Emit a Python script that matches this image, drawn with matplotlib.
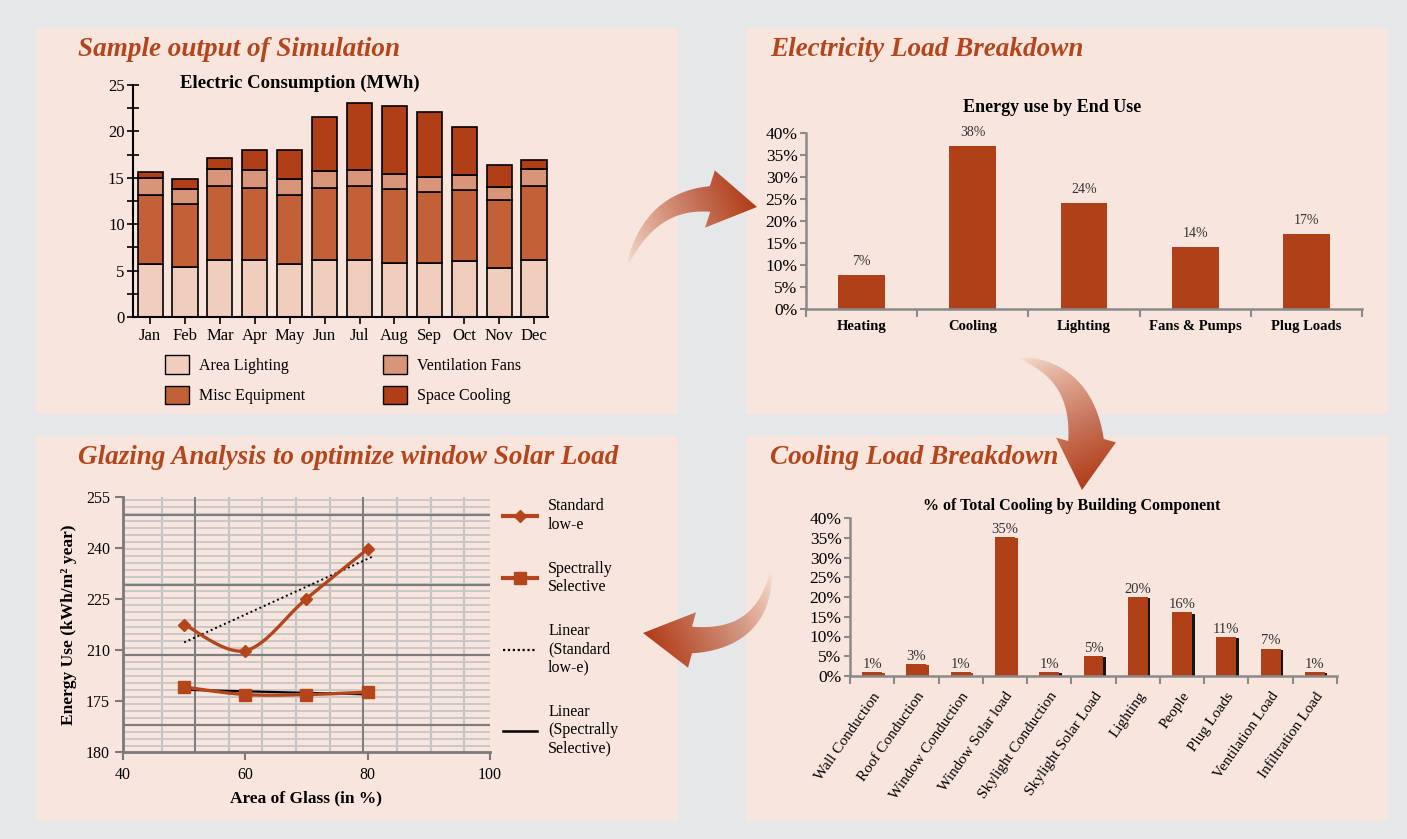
import numpy as np
import matplotlib
matplotlib.use('Agg')
import matplotlib.pyplot as plt
from matplotlib.patches import Rectangle, PathPatch, Patch
from matplotlib.path import Path
from matplotlib.lines import Line2D

plt.rcParams['font.family'] = ['Liberation Serif', 'DejaVu Serif']

W, H = 1407, 839
RUST = '#b04018'
TITLE = '#b5451b'
PANEL = '#f8e6de'
GUTTER = '#e6e7e9'

# --- chart 1 : monthly electric consumption (MWh)
months = ['Jan', 'Feb', 'Mar', 'Apr', 'May', 'Jun', 'Jul', 'Aug', 'Sep', 'Oct', 'Nov', 'Dec']
area_lighting = [5.67, 5.42, 6.13, 6.13, 5.67, 6.13, 6.13, 5.77, 5.84, 6.02, 5.28, 6.13]
misc_equipment = [7.50, 6.80, 8.03, 7.82, 7.47, 7.82, 8.03, 8.04, 7.65, 7.65, 7.36, 8.00]
ventilation_fans = [1.77, 1.55, 1.77, 1.84, 1.73, 1.81, 1.63, 1.63, 1.63, 1.63, 1.42, 1.87]
space_cooling = [0.71, 1.10, 1.17, 2.16, 3.08, 5.74, 7.26, 7.26, 7.01, 5.20, 2.30, 0.96]

# --- chart 2 : energy use by end use (%)
end_uses = ['Heating', 'Cooling', 'Lighting', 'Fans & Pumps', 'Plug Loads']
end_use_share = [7.8, 37.0, 24.0, 14.0, 17.0]
end_use_labels = ['7%', '38%', '24%', '14%', '17%']

# --- chart 3 : glazing analysis
glass_area = [50, 60, 70, 80]
standard_lowe = [217.5, 209.8, 225.1, 239.7]
spectral_sel = [199.1, 196.9, 196.9, 197.6]
glaze_yticks = [180, 195, 210, 225, 240, 255]
glaze_ylabels = ['180', '175', '210', '225', '240', '255']

# --- chart 4 : cooling by building component (%)
components = ['Wall Conduction', 'Roof Conduction', 'Window Conduction', 'Window Solar load',
              'Skylight Conduction', 'Skylight Solar Load', 'Lighting', 'People',
              'Plug Loads', 'Ventilation Load', 'Infiltration Load']
cooling_share = [1.0, 3.0, 1.0, 35.2, 1.0, 5.0, 20.0, 16.1, 9.9, 6.9, 1.0]
cooling_labels = ['1%', '3%', '1%', '35%', '1%', '5%', '20%', '16%', '11%', '7%', '1%']


def px_axes(x0, y0, x1, y1):
    a = fig.add_axes([x0 / W, 1 - y1 / H, (x1 - x0) / W, (y1 - y0) / H])
    a.patch.set_alpha(0)
    return a


def smooth(x, y, n=40):
    # Catmull-Rom, like Excel's smoothed line
    pts = np.column_stack([x, y]).astype(float)
    ext = np.vstack([pts[0], pts, pts[-1]])
    t = np.linspace(0, 1, n)[:, None]
    segs = []
    for i in range(1, len(ext) - 2):
        p0, p1, p2, p3 = ext[i - 1], ext[i], ext[i + 1], ext[i + 2]
        segs.append(0.5 * (2 * p1 + (-p0 + p2) * t + (2 * p0 - 5 * p1 + 4 * p2 - p3) * t ** 2
                           + (-p0 + 3 * p1 - 3 * p2 + p3) * t ** 3))
    s = np.vstack(segs)
    return s[:, 0], s[:, 1]


fig = plt.figure(figsize=(W / 100, H / 100), dpi=100, facecolor=GUTTER)

bg = fig.add_axes([0, 0, 1, 1])
bg.set_xlim(0, W)
bg.set_ylim(H, 0)
bg.axis('off')
for x0, y0, x1, y1 in [(36, 28, 678, 414), (746, 28, 1388, 414), (36, 436, 678, 821), (746, 436, 1388, 821)]:
    bg.add_patch(Rectangle((x0, y0), x1 - x0, y1 - y0, fc=PANEL, ec='none'))

tkw = dict(color=TITLE, fontsize=19.5, fontweight='bold', fontstyle='italic', va='center', ha='left')
bg.text(78, 50, 'Sample output of Simulation', **tkw)
bg.text(770, 50, 'Electricity Load Breakdown', **tkw)
bg.text(78, 457, 'Glazing Analysis to optimize window Solar Load', **tkw)
bg.text(770, 457, 'Cooling Load Breakdown', **tkw)

# ---------------- chart 1
ax1 = px_axes(133, 85, 548, 317)
x = np.arange(len(months))
stack_cols = ['#f0cdbd', '#c26138', '#d9957a', '#b03e17']
bottom = np.zeros(len(months))
for vals, col in zip([area_lighting, misc_equipment, ventilation_fans, space_cooling], stack_cols):
    ax1.bar(x, vals, 0.72, bottom=bottom, color=col, edgecolor='black', linewidth=1.2)
    bottom += np.array(vals)
ax1.set_xlim(-0.49, 11.4)
ax1.set_ylim(0, 25)
for s in ['top', 'right']:
    ax1.spines[s].set_visible(False)
for s in ['left', 'bottom']:
    ax1.spines[s].set_linewidth(1.5)
ax1.set_yticks(range(0, 26, 5))
ax1.set_yticks(np.arange(0, 25.1, 2.5), minor=True)
ax1.tick_params(axis='y', which='both', direction='inout', length=8, width=1.2, labelsize=12, pad=2)
ax1.set_xticks(x)
ax1.set_xticklabels(months)
ax1.tick_params(axis='x', direction='out', length=5, width=1.2, labelsize=12, pad=3)
bg.text(300, 83, 'Electric Consumption (MWh)', fontsize=13.5, fontweight='bold', ha='center', va='center')

h1 = [Patch(fc=c, ec='black', lw=1) for c in stack_cols]
fig.legend([h1[0], h1[1], h1[2], h1[3]],
           ['Area Lighting', 'Misc Equipment', 'Ventilation Fans', 'Space Cooling'],
           ncol=2, loc='upper left', bbox_to_anchor=(151 / W, 1 - 341 / H), frameon=False,
           fontsize=11.5, handlelength=1.5, handleheight=1.4, columnspacing=4.9,
           labelspacing=0.75, handletextpad=0.6)

# ---------------- chart 2
ax2 = px_axes(806, 133, 1362, 309)
x2 = np.arange(len(end_uses))
ax2.bar(x2, end_use_share, 0.42, color=RUST)
for xi, v, lab in zip(x2, end_use_share, end_use_labels):
    ax2.annotate(lab, (xi, v), xytext=(0, 5), textcoords='offset points', ha='center', va='bottom',
                 fontsize=10, color='#333333')
ax2.set_xlim(-0.5, 4.5)
ax2.set_ylim(0, 40)
for s in ['top', 'right']:
    ax2.spines[s].set_visible(False)
for s in ['left', 'bottom']:
    ax2.spines[s].set_color('#8a8a8a')
    ax2.spines[s].set_linewidth(1.8)
ax2.set_yticks(range(0, 41, 5))
ax2.set_yticklabels([f'{v}%' for v in range(0, 41, 5)])
ax2.tick_params(axis='y', direction='out', length=4, width=1.5, color='#8a8a8a', labelsize=12.5, pad=2)
ax2.set_xticks(x2)
ax2.set_xticklabels(end_uses, fontweight='bold')
ax2.tick_params(axis='x', which='major', length=0, labelsize=10.5, pad=8)
ax2.set_xticks(np.arange(-0.5, 4.6, 1), minor=True)
ax2.tick_params(axis='x', which='minor', direction='out', length=6, width=1.5, color='#8a8a8a')
bg.text(1052, 108, 'Energy use by End Use', fontsize=13, fontweight='bold', ha='center', va='center')

# ---------------- chart 3
ax3 = px_axes(123, 497, 490, 752)
ax3.set_xlim(40, 100)
ax3.set_ylim(180, 255)
for gx in np.arange(46.3, 100, 5.5):
    ax3.axvline(gx, color='#c4c4c4', lw=1.6, zorder=0)
for gy in np.arange(181.7, 255, 2.07):
    ax3.axhline(gy, color='#c9c9c9', lw=1.4, zorder=0)
for gx in [51.8, 79.3]:
    ax3.axvline(gx, color='#7d7d7d', lw=1.4, zorder=0.5)
for gy in [187.9, 208.5, 229.0, 249.7]:
    ax3.axhline(gy, color='#7d7d7d', lw=1.6, zorder=0.5)

fit_s = np.polyfit(glass_area, standard_lowe, 1)
fit_p = np.polyfit(glass_area, spectral_sel, 1)
xs = np.linspace(50, 81, 20)
xp = np.linspace(50, 80, 20)
ax3.plot(xs, np.polyval(fit_s, xs) + 1.5, color='black', lw=1.4, ls=(0, (1, 1.5)), zorder=3)
ax3.plot(xp, np.polyval(fit_p, xp), color='black', lw=1.6, zorder=3)
sx, sy = smooth(glass_area, standard_lowe)
ax3.plot(sx, sy, color=TITLE, lw=2.4, zorder=4)
ax3.plot(glass_area, standard_lowe, ls='none', marker='D', ms=6.5, color=TITLE, zorder=5)
px_, py_ = smooth(glass_area, spectral_sel)
ax3.plot(px_, py_, color=TITLE, lw=2.4, zorder=4)
ax3.plot(glass_area, spectral_sel, ls='none', marker='s', ms=9, color=TITLE, zorder=5)

for s in ['top', 'right']:
    ax3.spines[s].set_visible(False)
for s in ['left', 'bottom']:
    ax3.spines[s].set_color('#7a7a7a')
    ax3.spines[s].set_linewidth(2)
ax3.set_xticks([40, 60, 80, 100])
ax3.set_yticks(glaze_yticks)
ax3.set_yticklabels(glaze_ylabels)
ax3.tick_params(direction='out', length=6, width=1.5, color='#7a7a7a', labelsize=11.5)
ax3.tick_params(axis='x', pad=5)
ax3.set_xlabel('Area of Glass (in %)', fontsize=12.5, fontweight='bold', labelpad=5)
ax3.set_ylabel('Energy Use (kWh/m\u00b2 year)', fontsize=12.5, fontweight='bold', labelpad=6)

h3 = [Line2D([], [], color=TITLE, lw=3, marker='D', ms=6.5),
      Line2D([], [], color=TITLE, lw=3, marker='s', ms=9),
      Line2D([], [], color='black', lw=1.6, ls=(0, (1, 1.2))),
      Line2D([], [], color='black', lw=1.8)]
ax3.legend(h3, ['Standard\nlow-e', 'Spectrally\nSelective', 'Linear\n(Standard\nlow-e)',
                'Linear\n(Spectrally\nSelective)'],
           loc='upper left', bbox_to_anchor=(489 / W, 1 - 484 / H), bbox_transform=fig.transFigure,
           frameon=False, fontsize=11.5, labelspacing=1.75, handlelength=2.1, handletextpad=0.7)

# ---------------- chart 4
ax4 = px_axes(850, 518, 1337, 676)
x4 = np.arange(len(components))
shadow = [RUST] * 4 + ['#151515'] * 7
ax4.bar(x4 + 0.06, np.array(cooling_share) - 0.3, 0.45, color=shadow)
ax4.bar(x4, cooling_share, 0.45, color=RUST)
for xi, v, lab in zip(x4, cooling_share, cooling_labels):
    ax4.annotate(lab, (xi, v), xytext=(0, 1), textcoords='offset points', ha='center', va='bottom',
                 fontsize=10.5, color='#333333')
ax4.set_xlim(-0.5, 10.5)
ax4.set_ylim(0, 40)
for s in ['top', 'right']:
    ax4.spines[s].set_visible(False)
for s in ['left', 'bottom']:
    ax4.spines[s].set_color('#8a8a8a')
    ax4.spines[s].set_linewidth(1.8)
ax4.set_yticks(range(0, 41, 5))
ax4.set_yticklabels([f'{v}%' for v in range(0, 41, 5)])
ax4.tick_params(axis='y', direction='out', length=4, width=1.5, color='#8a8a8a', labelsize=12.5, pad=2)
ax4.set_xticks(x4)
ax4.set_xticklabels(components, rotation=55, ha='right', rotation_mode='anchor')
ax4.tick_params(axis='x', which='major', length=0, labelsize=11, pad=10)
ax4.set_xticks(np.arange(-0.5, 10.6, 1), minor=True)
ax4.tick_params(axis='x', which='minor', direction='out', length=6, width=1.5, color='#8a8a8a')
bg.text(1072, 506, '% of Total Cooling by Building Component', fontsize=11.5, fontweight='bold',
        ha='center', va='center')

# ---------------- gradient arrows
ov = fig.add_axes([0, 0, 1, 1])
ov.set_zorder(10)
ov.patch.set_alpha(0)
ov.axis('off')

light = np.array([0.95, 0.80, 0.72])
dark = np.array([0.69, 0.23, 0.09])


def grad_arrow(tail, ctrl, neck, tip, w_neck, head_half):
    P0, P1, P2, T = (np.array(p, float) for p in (tail, ctrl, neck, tip))
    t = np.linspace(0, 1, 80)[:, None]
    c = (1 - t) ** 2 * P0 + 2 * (1 - t) * t * P1 + t ** 2 * P2
    d = 2 * (1 - t) * (P1 - P0) + 2 * t * (P2 - P1)
    nrm = np.column_stack([-d[:, 1], d[:, 0]])
    nrm /= np.linalg.norm(nrm, axis=1)[:, None]
    w = 0.8 + (w_neck / 2) * t[:, 0] ** 0.8
    left = c + nrm * w[:, None]
    right = c - nrm * w[:, None]
    td = (T - P2) / np.linalg.norm(T - P2)
    hn = np.array([-td[1], td[0]])
    verts = np.vstack([left, P2 + hn * head_half, T, P2 - hn * head_half, right[::-1], left[:1]])
    patch = PathPatch(Path(verts, closed=True), fc='none', ec='none', transform=ov.transData)
    ov.add_patch(patch)
    x0, y0 = verts.min(axis=0) - 2
    x1, y1 = verts.max(axis=0) + 2
    X, Y = np.meshgrid(np.linspace(x0, x1, 200), np.linspace(y0, y1, 200))
    v = T - P0
    s = np.clip(((X - P0[0]) * v[0] + (Y - P0[1]) * v[1]) / (v @ v), 0, 1)
    k = s[..., None] ** 0.5
    img = np.concatenate([light + (dark - light) * k, (0.1 + 0.9 * s[..., None] ** 0.4)], axis=2)
    im = ov.imshow(img, extent=(x0, x1, y1, y0), origin='upper', aspect='auto',
                   interpolation='bilinear')
    im.set_clip_path(patch)


grad_arrow((628, 263), (652, 200), (710, 199), (757, 207), 24, 29)
grad_arrow((1020, 358), (1082, 372), (1086, 440), (1082, 490), 34, 30)
grad_arrow((771, 573), (762, 640), (692, 640), (643, 633), 25, 28)
ov.set_xlim(0, W)
ov.set_ylim(H, 0)

fig.savefig('out.png', dpi=100, facecolor=GUTTER)
